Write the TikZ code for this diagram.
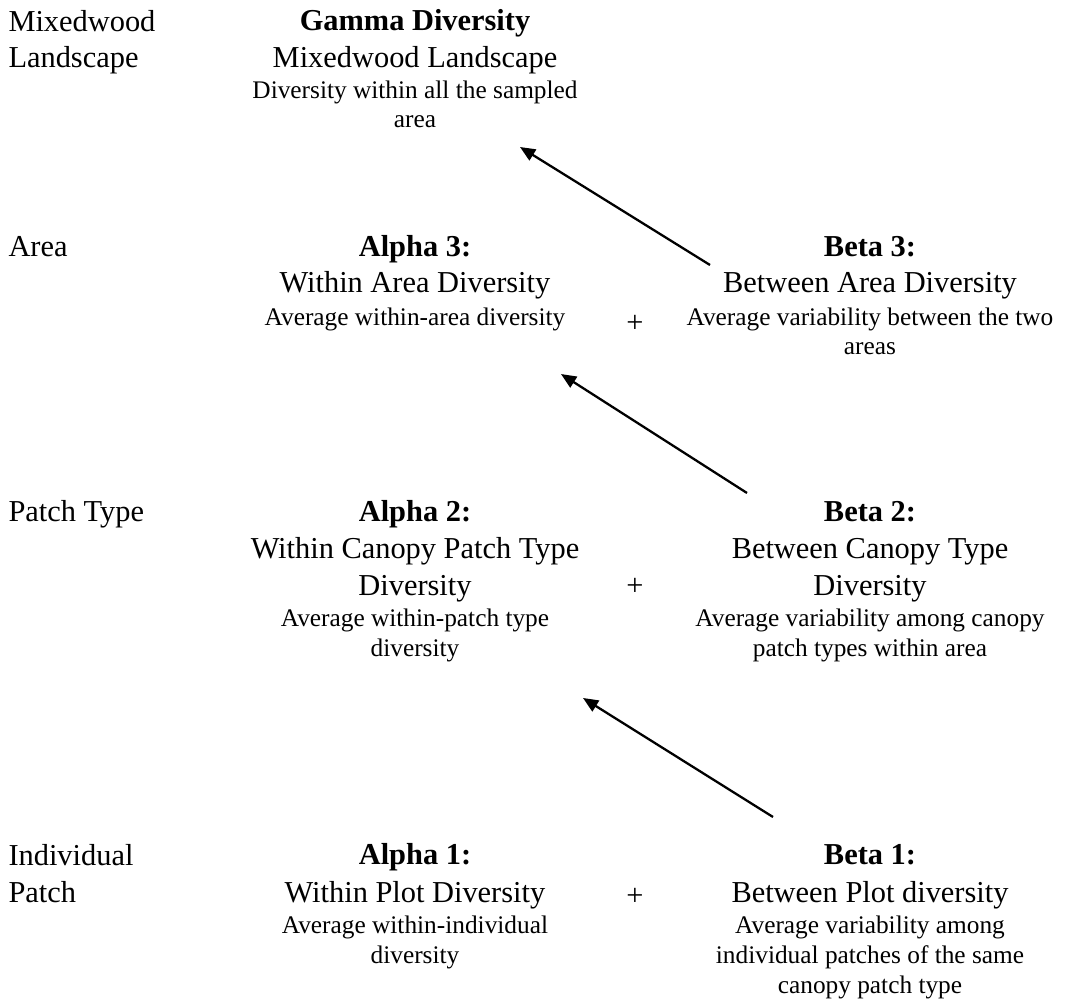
\documentclass[tikz,border=0pt]{standalone}
\usepackage{fontspec}
\setmainfont{Liberation Serif}
\usetikzlibrary{arrows.meta}

\tikzset{
  lvl/.style={anchor=base west, align=left, inner sep=0pt, font=\fontsize{12}{14.6}\selectfont},
  ttl/.style={anchor=base, inner sep=0pt, font=\fontsize{12}{14.6}\selectfont\bfseries},
  nm/.style={anchor=base, align=center, inner sep=0pt, font=\fontsize{12}{14.6}\selectfont},
  dsc/.style={anchor=base, align=center, inner sep=0pt, font=\fontsize{10}{11.8}\selectfont},
  pls/.style={inner sep=0pt, font=\fontsize{12}{14.6}\selectfont},
  up/.style={-{Triangle[length=6pt,width=5pt]}, line width=0.9pt}
}

\begin{document}
\begin{tikzpicture}[x=0.3947pt,y=-0.3947pt]
        \useasboundingbox (0,0) rectangle (1072,1002);

        % Level labels (multi-line ones sit on their last line)
        \node (lscape) [lvl] at (8,68) {Mixedwood\\Landscape};
        \node (larea) [lvl] at (8,257) {Area};
        \node (lptype) [lvl] at (8,521) {Patch Type};
        \node (lpatch) [lvl] at (8,902) {Individual\\Patch};

        % Gamma
        \node (gt) [ttl] at (415,31) {Gamma Diversity};
        \node (gn) [nm] at (415,68) {Mixedwood Landscape};
        \node (gd) [dsc] at (415,128) {Diversity within all the sampled\\area};

        % Alpha 3 / Beta 3
        \node (a3t) [ttl] at (415,257) {Alpha 3:};
        \node (a3n) [nm] at (415,293) {Within Area Diversity};
        \node (a3d) [dsc] at (415,325) {Average within-area diversity};
        \node (p3) [pls] at (635,324) {+};
        \node (b3t) [ttl] at (870,257) {Beta 3:};
        \node (b3n) [nm] at (870,293) {Between Area Diversity};
        \node (b3d) [dsc] at (870,355) {Average variability between the two\\areas};

        % Alpha 2 / Beta 2
        \node (a2t) [ttl] at (415,521) {Alpha 2:};
        \node (a2n) [nm] at (415,595) {Within Canopy Patch Type\\Diversity};
        \node (a2d) [dsc] at (415,656) {Average within-patch type\\diversity};
        \node (p2) [pls] at (635,587) {+};
        \node (b2t) [ttl] at (870,521) {Beta 2:};
        \node (b2n) [nm] at (870,595) {Between Canopy Type\\Diversity};
        \node (b2d) [dsc] at (870,656) {Average variability among canopy\\patch types within area};

        % Alpha 1 / Beta 1
        \node (a1t) [ttl] at (415,864) {Alpha 1:};
        \node (a1n) [nm] at (415,902) {Within Plot Diversity};
        \node (a1d) [dsc] at (415,963) {Average within-individual\\diversity};
        \node (p1) [pls] at (635,897) {+};
        \node (b1t) [ttl] at (870,864) {Beta 1:};
        \node (b1n) [nm] at (870,902) {Between Plot diversity};
        \node (b1d) [dsc] at (870,993) {Average variability among\\individual patches of the same\\canopy patch type};

        % Arrow ends
        \coordinate (b3foot) at (710,265);
        \coordinate (ghead) at (520,147);
        \coordinate (b2foot) at (747,493);
        \coordinate (a3head) at (561,374);
        \coordinate (b1foot) at (773,817);
        \coordinate (a2head) at (583,698);

        \draw [up] (b3foot) -- (ghead);
        \draw [up] (b2foot) -- (a3head);
        \draw [up] (b1foot) -- (a2head);
\end{tikzpicture}
\end{document}
